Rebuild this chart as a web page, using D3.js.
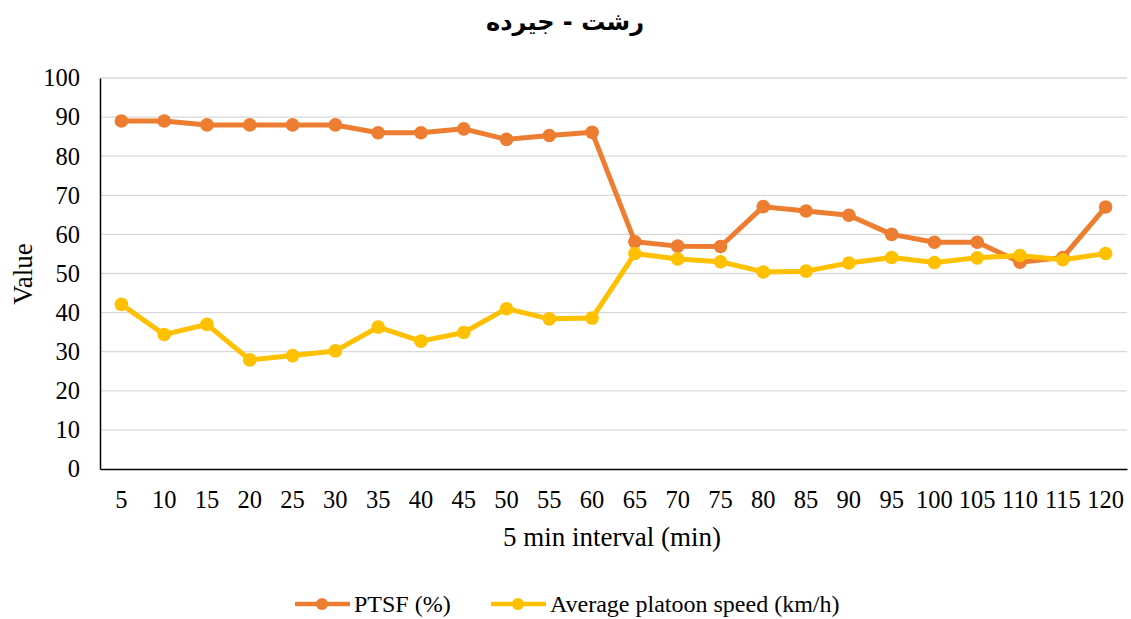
<!DOCTYPE html>
<html>
<head>
<meta charset="utf-8">
<script src="https://cdn.jsdelivr.net/npm/d3@7"></script>
<style>
  body { margin: 0; background: #fff; }
  svg text { font-family: "Liberation Serif", "Times New Roman", Tinos, "DejaVu Serif", serif; fill: #000; }
</style>
</head>
<body>
<div id="container"></div>
<script>
const title = "رشت - جیرده";
const intervals = [5, 10, 15, 20, 25, 30, 35, 40, 45, 50, 55, 60, 65, 70, 75, 80, 85, 90, 95, 100, 105, 110, 115, 120];
const ptsf = [89, 89, 88, 88, 88, 88, 86, 86, 87, 84.3, 85.3, 86.1, 58.1, 57, 56.9, 67.1, 66, 64.9, 60, 58, 58, 52.9, 54.1, 67];
const speed = [42.1, 34.4, 37, 27.9, 29, 30.2, 36.3, 32.7, 34.9, 41, 38.4, 38.6, 55.1, 53.7, 53, 50.4, 50.6, 52.7, 54.1, 52.8, 54, 54.6, 53.5, 55.1];
const yTicks = [0, 10, 20, 30, 40, 50, 60, 70, 80, 90, 100];
const seriesNames = ["PTSF (%)", "Average platoon speed (km/h)"];
const colors = ["#ED7D31", "#FFC000"];

const width = 1131, height = 619;
const margin = { top: 78, right: 4, bottom: 150, left: 100 };

const svg = d3.select('#container').append('svg')
    .attr('width', width).attr('height', height);

const x = d3.scaleBand().domain(intervals).range([margin.left, width - margin.right]);
const y = d3.scaleLinear().domain([0, 100]).range([height - margin.bottom, margin.top]);

// gridlines
svg.append('g').selectAll('line').data(yTicks.filter(d => d > 0)).join('line')
    .attr('x1', margin.left).attr('x2', x.range()[1])
    .attr('y1', d => y(d)).attr('y2', d => y(d))
    .attr('stroke', '#d9d9d9').attr('stroke-width', 1.3);

// axes
const yAxis = svg.append('g').attr('transform', `translate(${margin.left},0)`)
    .call(d3.axisLeft(y).tickValues(yTicks).tickSize(0).tickPadding(20));
yAxis.attr('font-family', null);
yAxis.select('.domain').attr('stroke', '#000').attr('stroke-width', 1.5);
yAxis.selectAll('text').attr('font-size', 24.5);

const xAxis = svg.append('g').attr('transform', `translate(0,${y(0)})`)
    .call(d3.axisBottom(x).tickSize(0).tickPadding(22));
xAxis.attr('font-family', null);
xAxis.select('.domain').attr('stroke', '#000').attr('stroke-width', 1.5);
xAxis.selectAll('text').attr('font-size', 24.5);

// series
const line = d3.line().x((d, i) => x(intervals[i]) + x.bandwidth() / 2).y(d => y(d));
[ptsf, speed].forEach((vals, k) => {
    svg.append('path')
        .attr('d', line(vals))
        .attr('fill', 'none')
        .attr('stroke', colors[k])
        .attr('stroke-width', 5)
        .attr('stroke-linejoin', 'round');
    svg.append('g').selectAll('circle').data(vals).join('circle')
        .attr('cx', (d, i) => x(intervals[i]) + x.bandwidth() / 2)
        .attr('cy', d => y(d))
        .attr('r', 6.8)
        .attr('fill', colors[k]);
});

// title
svg.append('text')
    .attr('x', 565).attr('y', 30)
    .attr('text-anchor', 'middle')
    .attr('direction', 'rtl')
    .style('font-family', '"DejaVu Sans", sans-serif')
    .attr('font-weight', 'bold').attr('font-size', 24)
    .text(title);

// axis titles
svg.append('text')
    .attr('transform', `translate(32,274) rotate(-90)`)
    .attr('text-anchor', 'middle')
    .attr('font-size', 27)
    .text('Value');
svg.append('text')
    .attr('x', 612).attr('y', 546)
    .attr('text-anchor', 'middle')
    .attr('font-size', 27)
    .text('5 min interval (min)');

// legend
const legendX = [295, 491];
seriesNames.forEach((name, k) => {
    const g = svg.append('g').attr('transform', `translate(${legendX[k]},604)`);
    g.append('line').attr('x1', 0).attr('x2', 55).attr('y1', 0).attr('y2', 0)
        .attr('stroke', colors[k]).attr('stroke-width', 4.5);
    g.append('circle').attr('cx', 27).attr('cy', 0).attr('r', 6).attr('fill', colors[k]);
    g.append('text').attr('x', 59).attr('y', 8).attr('font-size', 24).text(name);
});
</script>
</body>
</html>
